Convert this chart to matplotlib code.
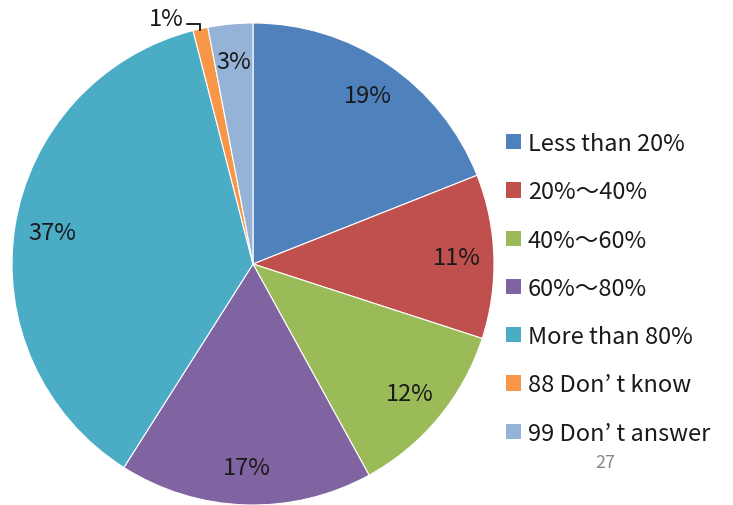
import matplotlib
matplotlib.use("Agg")
import matplotlib.pyplot as plt
from matplotlib.patches import Patch
import numpy as np

plt.rcParams['font.family'] = ['Noto Sans CJK JP', 'Lato', 'DejaVu Sans']

categories = ["Less than 20%", "20%\uff5e40%", "40%\uff5e60%", "60%\uff5e80%",
              "More than 80%", "88 Don\u2019 t know", "99 Don\u2019 t answer"]
values = [19, 11, 12, 17, 37, 1, 3]
colors = ["#4F81BD", "#C0504D", "#9BBB59", "#8064A2", "#4BACC6", "#F79646", "#95B3D7"]
page_number = "27"

W, H = 733, 506
fig = plt.figure(figsize=(W / 100, H / 100), dpi=100)
fig.patch.set_facecolor("white")

cx, cy, r = 253, 265, 241
ax = fig.add_axes([(cx - r) / W, (H - cy - r) / H, 2 * r / W, 2 * r / H])

wedges, _ = ax.pie(values, colors=colors, startangle=90, counterclock=False,
                   radius=1.0, center=(0, 0), frame=False,
                   wedgeprops=dict(edgecolor="white", linewidth=0.8))
ax.set_xlim(-1, 1)
ax.set_ylim(-1, 1)
ax.set_aspect("equal")
ax.axis("off")

fs = 17
total = sum(values)
cum = 0
for i, v in enumerate(values):
    mid = np.deg2rad(90 - (cum + v / 2) / total * 360)
    cum += v
    label = f"{v}%"
    if v < 2:
        # small slice: label outside with an elbow leader line
        ex, ey = np.cos(mid), np.sin(mid)
        ax.plot([ex - 0.057, ex, ex], [0.996, 0.996, ey - 0.003], color="black",
                lw=1.2, clip_on=False, solid_joinstyle="miter")
        ax.text(ex - 0.14, 1.02, label, ha="center", va="center", fontsize=fs,
                color="#1a1a1a", clip_on=False)
    else:
        d = 0.845
        ax.text(d * np.cos(mid), d * np.sin(mid), label, ha="center", va="center",
                fontsize=fs, color="#1a1a1a")

handles = [Patch(facecolor=c, edgecolor="none") for c in colors]
fig.legend(handles, categories, loc="upper left",
           bbox_to_anchor=(506 / W, 1 - 133 / H), frameon=False,
           fontsize=fs, handlelength=0.62, handleheight=0.62, handletextpad=0.3,
           labelspacing=1.07, borderaxespad=0, borderpad=0, labelcolor="#1a1a1a")

fig.text(605 / W, 1 - 463 / H, page_number, ha="center", va="center",
         fontsize=13, color="#888888")

fig.savefig("out.png", dpi=100, facecolor="white")
